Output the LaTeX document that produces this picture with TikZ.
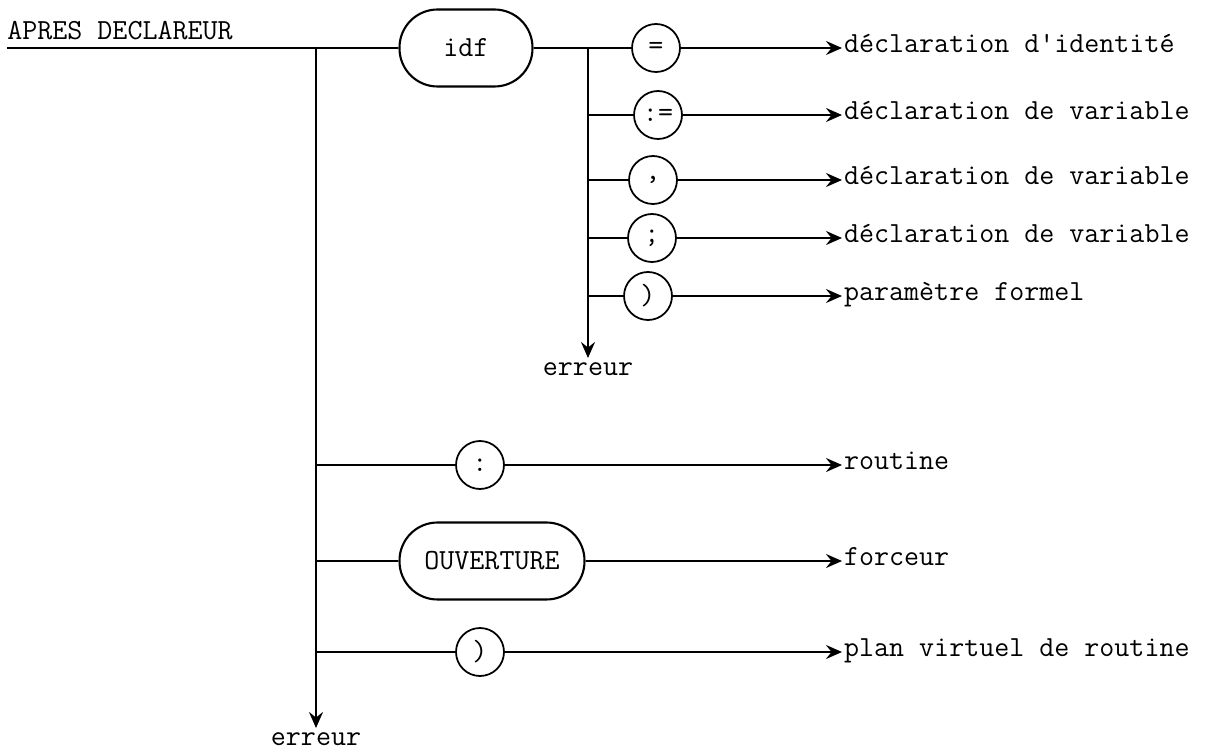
\documentclass[tikz,border=0pt]{standalone}
\usepackage{fontspec}
\usetikzlibrary{arrows.meta, positioning}
\newcommand{\tapefont}{\ttfamily\fontsize{16.6}{19}\selectfont}

\begin{document}
\begin{tikzpicture}[
        x=0.02cm, y=-0.02cm,
        tok/.style={draw, circle, line width=1pt, minimum size=0.96cm, inner sep=0pt, font=\tapefont},
        nterm/.style={draw, rectangle, rounded corners=0.76cm, line width=1.2pt, minimum height=1.54cm, font=\tapefont},
        rail/.style={line width=1.2pt},
        arr/.style={-{Stealth[length=3.2mm, width=2.8mm, inset=1.1mm]}, line width=1.2pt},
        dest/.style={anchor=west, inner sep=1pt, text height=1.5ex, text depth=0.25ex, font=\tapefont}
    ]
        \useasboundingbox (0,0) rectangle (1221,753);

        % Title and entry rail
        \node[anchor=base west, inner sep=0pt, font=\tapefont] (title) at (7,40) {APRES DECLAREUR};
        \coordinate (start) at (7,48);
        \coordinate (j1) at (316,48);
        \coordinate (j2) at (588,48);

        % Identifier branch
        \node[nterm, minimum width=2.66cm] (idf) at (466,48) {idf};
        \node[tok] (eq) at (656,48) {=};
        \node[tok] (assign) at (658,115) {:=};
        \node[tok] (comma) at (653,180) {,};
        \node[tok] (semi) at (652,238) {;};
        \node[tok] (rpar) at (648,296) {)};

        % Other branches
        \node[tok] (colon) at (480,465) {:};
        \node[nterm, minimum width=3.7cm] (ouv) at (492,561) {OUVERTURE};
        \node[tok] (rparb) at (480,652) {)};

        % Targets
        \node[dest] (tident) at (842,48) {déclaration d'identité};
        \node[dest] (tvar1) at (842,115) {déclaration de variable};
        \node[dest] (tvar2) at (842,180) {déclaration de variable};
        \node[dest] (tvar3) at (842,238) {déclaration de variable};
        \node[dest] (tparam) at (842,296) {paramètre formel};
        \node[dest] (troutine) at (842,465) {routine};
        \node[dest] (tforce) at (842,561) {forceur};
        \node[dest] (tplan) at (842,652) {plan virtuel de routine};

        \node[font=\tapefont, anchor=north, text height=1.5ex, text depth=0.25ex] (err1) at (588,358) {erreur};
        \node[font=\tapefont, anchor=north, text height=1.5ex, text depth=0.25ex] (err2) at (316,728) {erreur};

        % Rails
        \draw[rail] (start) -- (idf.west);
        \draw[rail] (idf.east) -- (eq.west);
        \foreach \t in {assign, comma, semi, rpar}
            \draw[rail] (j2 |- \t) -- (\t.west);
        \foreach \t in {colon, ouv, rparb}
            \draw[rail] (j1 |- \t) -- (\t.west);
        \draw[arr] (j2) -- (err1.north);
        \draw[arr] (j1) -- (err2.north);

        % Exits
        \draw[arr] (eq.east) -- (tident.west);
        \draw[arr] (assign.east) -- (tvar1.west);
        \draw[arr] (comma.east) -- (tvar2.west);
        \draw[arr] (semi.east) -- (tvar3.west);
        \draw[arr] (rpar.east) -- (tparam.west);
        \draw[arr] (colon.east) -- (troutine.west);
        \draw[arr] (ouv.east) -- (tforce.west);
        \draw[arr] (rparb.east) -- (tplan.west);
\end{tikzpicture}
\end{document}
